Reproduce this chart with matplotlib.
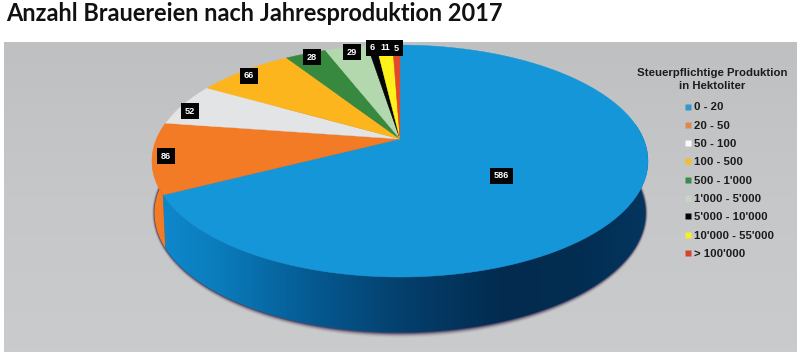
import numpy as np
import matplotlib
matplotlib.use("Agg")
import matplotlib.pyplot as plt
from matplotlib.colors import LinearSegmentedColormap
from matplotlib.lines import Line2D
from matplotlib.patches import PathPatch, Polygon, Wedge
from matplotlib.path import Path
from matplotlib.transforms import Affine2D, Transform

# ---- data ----
categories = ["0 - 20", "20 - 50", "50 - 100", "100 - 500", "500 - 1'000",
              "1'000 - 5'000", "5'000 - 10'000", "10'000 - 55'000", "> 100'000"]
breweries = [586, 86, 52, 66, 28, 29, 6, 11, 5]

chart_title = "Anzahl Brauereien nach Jahresproduktion 2017"
legend_title = "Steuerpflichtige Produktion\nin Hektoliter"

# ---- styles ----
slice_colors = ["#1496d8", "#f47b25", "#e3e4e6", "#fdb51d", "#37893f",
                "#b4d8ae", "#050505", "#fff11a", "#e2492a"]
legend_colors = ["#3596cb", "#dc8a4c", "#fafafa", "#f5bd2a", "#3c8a47",
                 "#c5d8c3", "#050505", "#f8ee20", "#d6452a"]
label_radius = [0.50, 0.946, 0.943, 0.938, 0.95, 0.942, 0.973, 0.966, 0.963]
label_turn = [7, 0.4, -3, -1.3, 0.7, 0.9, 0, 0, 0]

APEX_X, APEX_Y = 400.0, 139.0
PERSP_M, PERSP_K, PERSP_C = 243.5, 111.8, 0.19
ELL_CY = 161.0
DEPTH, RIM_SY, RIM_SX = 52.0, 1.03, 0.99


class Perspective(Transform):
    """Tilts the unit-circle pie so that the far side looks smaller."""
    input_dims = output_dims = 2
    is_separable = False
    has_inverse = False

    def transform_non_affine(self, values):
        values = np.asarray(values, float)
        u, v = values[:, 0], values[:, 1]
        d = 1 + PERSP_C * v
        return np.column_stack([APEX_X + PERSP_M * u / d,
                                APEX_Y - PERSP_K * v / d])

    def transform_path_non_affine(self, path):
        # flatten the Bezier arcs first, at a scale that keeps them smooth
        big = path.transformed(Affine2D().scale(2000)).to_polygons(closed_only=True)[0] / 2000
        return Path(self.transform_non_affine(big), closed=True)


persp = Perspective()


def rim(theta_cw):
    """Top rim points for clockwise-from-top angles in degrees."""
    t = np.deg2rad(theta_cw)
    return persp.transform_non_affine(np.column_stack([np.sin(t), np.cos(t)]))


def lower(pts):
    out = pts.copy()
    out[:, 0] = APEX_X + (pts[:, 0] - APEX_X) * RIM_SX
    out[:, 1] = ELL_CY + (pts[:, 1] - ELL_CY) * RIM_SY + DEPTH
    return out


fig = plt.figure(figsize=(8.0, 3.59), dpi=100, facecolor="white")
ax = fig.add_axes([0, 0, 1, 1])

# panel
panel_cmap = LinearSegmentedColormap.from_list("panel", ["#bfc0c2", "#c6c7c9", "#cacbcd"])
ax.imshow(np.linspace(0, 1, 64).reshape(-1, 1), cmap=panel_cmap, aspect="auto",
          extent=(4, 797, 352, 42), zorder=0)
ax.set_xlim(0, 800)
ax.set_ylim(359, 0)
ax.axis("off")

# bounds of the slices, clockwise from the top
values = np.array(breweries, float)
edges = np.concatenate([[0], np.cumsum(values) / values.sum() * 360])

# soft shadow under the disc
circle = lower(rim(np.linspace(0, 360, 361)))
centre = np.array([APEX_X, ELL_CY + DEPTH])
for grow, alpha in zip([5.0, 3.8, 2.8, 1.8, 0.9], [0.07, 0.12, 0.2, 0.32, 0.5]):
    ring = centre + (circle - centre) * np.array([1 + grow / 500.0, 1 + grow / 120.0])
    ax.add_patch(Polygon(ring, closed=True, fc="#2e2148", ec="none", alpha=alpha, zorder=1))

# side wall: blue part with a gradient, then the orange sliver
blue_arc = rim(np.linspace(82, edges[1], 200))
blue_side = Path(np.vstack([blue_arc, lower(blue_arc)[::-1], blue_arc[:1]]), closed=False)
side_cmap = LinearSegmentedColormap.from_list(
    "side", [(0.0, "#0e88cc"), (0.12, "#0a7cbc"), (0.32, "#05588f"), (0.50, "#043f6c"),
             (0.70, "#022b4f"), (0.85, "#022d51"), (1.0, "#04365f")])
img = ax.imshow(np.linspace(0, 1, 256).reshape(1, -1), cmap=side_cmap, aspect="auto",
                extent=(160, 650, 340, 100), zorder=2)
img.set_clip_path(PathPatch(blue_side, transform=ax.transData))
ax.set_xlim(0, 800)
ax.set_ylim(359, 0)

orange_arc = rim(np.linspace(edges[1], 285, 60))
ax.add_patch(Polygon(np.vstack([orange_arc, lower(orange_arc)[::-1]]), closed=True,
                     fc=slice_colors[1], ec="none", zorder=2))

# top face, one wedge per value
for start, stop, color in zip(edges[:-1], edges[1:], slice_colors):
    ax.add_patch(Wedge((0, 0), 1.0, 90 - stop, 90 - start, fc=color, ec=color, lw=0.3,
                       transform=persp + ax.transData, zorder=3))

# value labels
for value, start, stop, radius, turn in zip(breweries, edges[:-1], edges[1:],
                                            label_radius, label_turn):
    angle = np.deg2rad((start + stop) / 2 + turn)
    x, y = persp.transform_non_affine([[radius * np.sin(angle), radius * np.cos(angle)]])[0]
    ax.text(x, y, str(value), ha="center", va="center", color="white", fontsize=6.6,
            fontweight="bold", family="Liberation Sans", zorder=5,
            bbox=dict(boxstyle="square,pad=0.42", fc="#030303", ec="none"))

# legend
handles = [Line2D([], [], ls="none", marker="s", ms=5, mfc=c, mec="none") for c in legend_colors]
ax.legend(handles, categories, loc="upper left", bbox_to_anchor=(683 / 800, 1 - 102.5 / 359),
          frameon=False, borderpad=0, borderaxespad=0, handlelength=0.9, handletextpad=0.1,
          labelspacing=0.73,
          prop={"family": "Liberation Sans", "weight": "bold", "size": 8.2},
          labelcolor="#1c1c1c")
ax.text(712, 79.5, legend_title, ha="center", va="center", fontsize=8.2, fontweight="bold",
        family="Liberation Sans", color="#1c1c1c", linespacing=1.32, zorder=5)

# title
ax.text(6, 21, chart_title, ha="left", va="baseline", fontsize=16.95, fontweight="bold",
        family="Lato", color="#111111")

fig.savefig("out.png", dpi=100, facecolor="white")
